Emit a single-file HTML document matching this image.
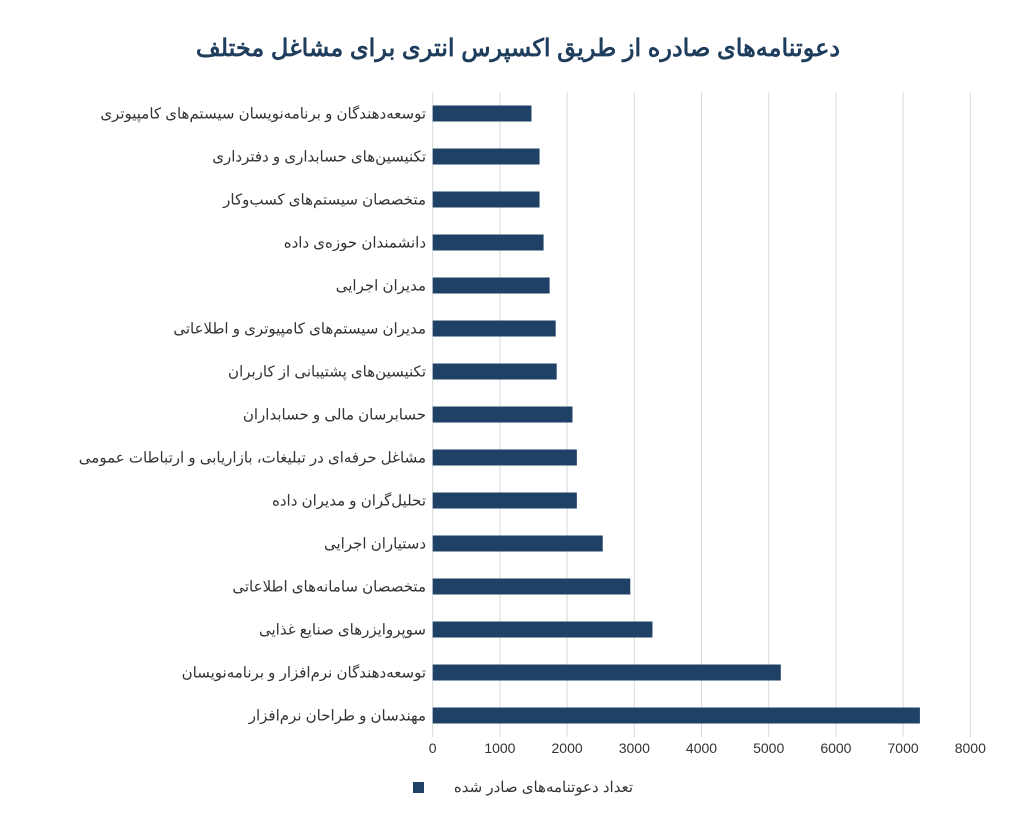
<!DOCTYPE html>
<html><head><meta charset="utf-8">
<style>
body{margin:0;background:#fff;width:1017px;height:824px;overflow:hidden;font-family:"Liberation Sans","Noto Sans CJK SC",sans-serif;}
</style></head>
<body>
<svg width="1017" height="824" id="chart" xmlns="http://www.w3.org/2000/svg">
<text x="518" y="56" text-anchor="middle" direction="rtl" font-size="24" font-weight="bold" fill="#1f3d5c">دعوتنامه‌های صادره از طریق اکسپرس انتری برای مشاغل مختلف</text>
<g id="grid"></g><g id="bars"></g><g id="labels"></g><g id="ticks"></g>
<rect x="413" y="782" width="11" height="11" fill="#1f4166"/>
<text x="633" y="792" text-anchor="start" direction="rtl" font-size="15" fill="#333">تعداد دعوتنامه‌های صادر شده</text>
</svg>
<script>
const categories=["توسعه‌دهندگان و برنامه‌نویسان سیستم‌های کامپیوتری","تکنیسین‌های حسابداری و دفترداری","متخصصان سیستم‌های کسب‌وکار","دانشمندان حوزه‌ی داده","مدیران اجرایی","مدیران سیستم‌های کامپیوتری و اطلاعاتی","تکنیسین‌های پشتیبانی از کاربران","حسابرسان مالی و حسابداران","مشاغل حرفه‌ای در تبلیغات، بازاریابی و ارتباطات عمومی","تحلیل‌گران و مدیران داده","دستیاران اجرایی","متخصصان سامانه‌های اطلاعاتی","سوپروایزرهای صنایع غذایی","توسعه‌دهندگان نرم‌افزار و برنامه‌نویسان","مهندسان و طراحان نرم‌افزار"];
const values=[1470,1590,1590,1650,1740,1830,1845,2080,2145,2145,2530,2940,3270,5180,7250];
const ticks=[0,1000,2000,3000,4000,5000,6000,7000,8000];
const NS="http://www.w3.org/2000/svg";
const x0=432.7,pxPer=67.2/1000,plotTop=92,plotBottom=737;
const band=(plotBottom-plotTop)/categories.length;
function xs(v){return x0+v*pxPer;}
function yc(i){return plotTop+band*(i+0.5);}
function mk(t,a,p){const e=document.createElementNS(NS,t);for(const k in a)e.setAttribute(k,a[k]);document.getElementById(p).appendChild(e);return e;}
ticks.forEach((t,i)=>{
 const g=mk('line',{x1:xs(t),x2:xs(t),y1:plotTop,y2:plotBottom,stroke:'#d9d9d9','stroke-width':1},'grid');
 
 
 const tx=mk('text',{x:xs(t),y:753,'text-anchor':'middle','font-size':14,fill:'#333'},'ticks');
 tx.textContent=t;
 
 
});
categories.forEach((c,i)=>{
 const r=mk('rect',{x:x0,y:yc(i)-8,width:xs(values[i])-x0,height:16,fill:'#1f4166'},'bars');
 
 
 const l=mk('text',{x:426,y:yc(i)+5,'text-anchor':'start',direction:'rtl','font-size':15,fill:'#333'},'labels');
 l.textContent=c;
 
 
});
</script>
</body></html>
